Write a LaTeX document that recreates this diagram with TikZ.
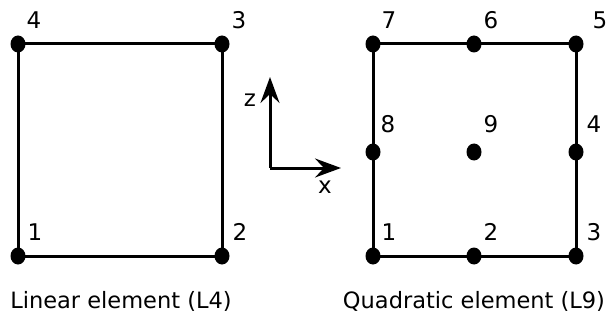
\documentclass[tikz,border=0pt]{standalone}
\usepackage{fontspec}
\setmainfont{DejaVu Sans}
\usetikzlibrary{positioning, arrows.meta, shapes.geometric}
\tikzset{
  dot/.style={ellipse, fill=black, inner sep=0pt, minimum width=15pt, minimum height=17pt},
  num/.style={font=\fontsize{23}{26}\selectfont, inner sep=0pt},
  edge/.style={line width=3pt, black},
  axis/.style={-{Stealth[length=26pt, width=19pt, inset=9pt]}, line width=3pt},
  caption/.style={font=\fontsize{22.5}{26}\selectfont, inner sep=0pt},
}
\begin{document}
\begin{tikzpicture}[x=1pt, y=-1pt]
  \useasboundingbox (0,0) rectangle (606,321);
  % linear element
  \node[dot] (a1) at (18,256) {};
  \node[dot] (a2) at (222,256) {};
  \node[dot] (a3) at (222,44) {};
  \node[dot] (a4) at (18,44) {};
  \draw[edge] (a1.center)--(a2.center)--(a3.center)--(a4.center)--cycle;
  \node[num] at (35,232) {1};
  \node[num] at (240,232) {2};
  \node[num] at (239,20) {3};
  \node[num] at (34,20) {4};
  \node[caption] (capA) at (121,301) {Linear element (L4)};
  % axes
  \coordinate (o) at (270,168);
  \coordinate (zt) at (270,77);
  \coordinate (xt) at (341,168);
  \draw[axis] (o)--(zt);
  \draw[axis] (o)--(xt);
  \node[num] (zl) at (250,100) {z};
  \node[num] (xl) at (325,187) {x};
  % quadratic element
  \node[dot] (b1) at (373,256) {};
  \node[dot] (b2) at (474,256) {};
  \node[dot] (b3) at (576,256) {};
  \node[dot] (b4) at (576,152) {};
  \node[dot] (b5) at (576,44) {};
  \node[dot] (b6) at (474,44) {};
  \node[dot] (b7) at (373,44) {};
  \node[dot] (b8) at (373,152) {};
  \node[dot] (b9) at (474,152) {};
  \draw[edge] (b1.center)--(b3.center)--(b5.center)--(b7.center)--cycle;
  \node[num] at (389,232) {1};
  \node[num] at (491,232) {2};
  \node[num] at (594,232) {3};
  \node[num] at (594,124) {4};
  \node[num] at (600,20) {5};
  \node[num] at (491,20) {6};
  \node[num] at (389,20) {7};
  \node[num] at (388,124) {8};
  \node[num] at (491,124) {9};
  \node[caption] (capB) at (474,301) {Quadratic element (L9)};
\end{tikzpicture}
\end{document}
